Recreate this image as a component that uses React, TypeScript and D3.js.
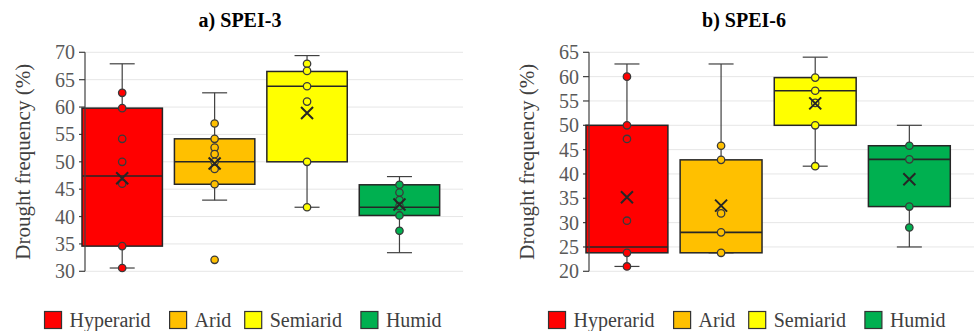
import React from 'react';
import * as d3 from 'd3';

const CLIMATES = ['Hyperarid', 'Arid', 'Semiarid', 'Humid'];
const COLORS = ['#FF0000', '#FFC000', '#FFFF00', '#00B050'];
const PANEL_TITLES = ['a) SPEI-3', 'b) SPEI-6'];
const Y_TITLE = 'Drought frequency (%)';
const Y_DOMAINS: [number, number][] = [[30, 70], [20, 65]];
const Y_TICKS = [
  [30, 35, 40, 45, 50, 55, 60, 65, 70],
  [20, 25, 30, 35, 40, 45, 50, 55, 60, 65],
];

// SPEI-3 statistics per climate (Hyperarid, Arid, Semiarid, Humid)
const SPEI3_MIN = [30.6, 43.0, 41.7, 33.4];
const SPEI3_Q1 = [34.6, 45.9, 50.0, 40.2];
const SPEI3_MEDIAN = [47.4, 50.0, 63.8, 41.7];
const SPEI3_Q3 = [59.8, 54.2, 66.5, 45.8];
const SPEI3_MAX = [67.9, 62.6, 69.4, 47.3];
const SPEI3_MEAN = [47.0, 49.7, 58.9, 42.2];
const SPEI3_POINTS = [
  [62.6, 59.8, 54.2, 50.0, 46.0, 34.6, 30.6],
  [57.0, 54.2, 52.6, 51.4, 50.0, 48.7, 45.9, 32.1],
  [67.9, 66.6, 63.8, 61.0, 50.0, 41.7],
  [45.8, 44.4, 43.0, 41.9, 40.2, 37.4],
];

// SPEI-6 statistics per climate
const SPEI6_MIN = [21.0, 23.8, 41.6, 25.0];
const SPEI6_Q1 = [23.8, 23.8, 50.0, 33.3];
const SPEI6_MEDIAN = [25.0, 28.0, 57.1, 43.0];
const SPEI6_Q3 = [50.0, 42.9, 59.8, 45.8];
const SPEI6_MAX = [62.6, 62.6, 64.0, 50.0];
const SPEI6_MEAN = [35.2, 33.5, 54.5, 38.9];
const SPEI6_POINTS = [
  [60.0, 50.0, 47.2, 30.4, 23.8, 21.0],
  [45.8, 42.9, 31.9, 28.0, 23.8],
  [59.8, 57.1, 54.6, 50.0, 41.6],
  [45.8, 43.0, 33.3, 29.0],
];

// approximate advance widths (em) of the legend labels in a Times-like face
const LEGEND_EM = [4.054, 1.555, 3.61, 2.778];

const W = 974;
const H = 331;
const FONT_STACK = "'Liberation Serif', Tinos, 'Times New Roman', serif";

type Stats = { min: number[]; q1: number[]; med: number[]; q3: number[]; max: number[]; mean: number[]; pts: number[][] };
const PANELS: Stats[] = [
  { min: SPEI3_MIN, q1: SPEI3_Q1, med: SPEI3_MEDIAN, q3: SPEI3_Q3, max: SPEI3_MAX, mean: SPEI3_MEAN, pts: SPEI3_POINTS },
  { min: SPEI6_MIN, q1: SPEI6_Q1, med: SPEI6_MEDIAN, q3: SPEI6_Q3, max: SPEI6_MAX, mean: SPEI6_MEAN, pts: SPEI6_POINTS },
];

const PANEL_X = [0, 504];
const AXIS_X = 85;
const PLOT_W = [378, 385];
const PLOT_TOP = 52.3;
const PLOT_BOTTOM = 271.3;

function Panel({ idx }: { idx: number }) {
  const ox = PANEL_X[idx];
  const st = PANELS[idx];
  const axisX = ox + AXIS_X;
  const y = d3.scaleLinear().domain(Y_DOMAINS[idx]).range([PLOT_BOTTOM, PLOT_TOP]);
  const x = d3
    .scaleBand<string>()
    .domain(CLIMATES)
    .range([axisX - 3, axisX - 3 + PLOT_W[idx]])
    .paddingInner(0.13)
    .paddingOuter(0.11)
    .align(0);
  const bw = x.bandwidth();
  const cap = 25;
  const mx = 6;

  const sq = 17;
  const items = CLIMATES.map((c, i) => ({ c, w: sq + 8 + LEGEND_EM[i] * 20 }));
  const gap = 19;
  const total = d3.sum(items, (d) => d.w) + gap * (items.length - 1);
  let lx = ox + 243 - total / 2;
  const legendPos = items.map((it) => {
    const p = lx;
    lx += it.w + gap;
    return p;
  });

  return (
    <g>
      {Y_TICKS[idx].map((t) => (
        <g key={t}>
          <line x1={axisX} x2={ox + AXIS_X + PLOT_W[idx]} y1={y(t)} y2={y(t)} stroke="#e6e6e6" strokeWidth={1} />
          <line x1={axisX - 6} x2={axisX} y1={y(t)} y2={y(t)} stroke="#404040" strokeWidth={1.2} />
        </g>
      ))}
      {CLIMATES.map((c, i) => {
        const cx = (x(c) as number) + bw / 2;
        const x0 = x(c) as number;
        return (
          <g key={c}>
            <line x1={cx} x2={cx} y1={y(st.max[i])} y2={y(st.q3[i])} stroke="#404040" strokeWidth={1.2} />
            <line x1={cx} x2={cx} y1={y(st.q1[i])} y2={y(st.min[i])} stroke="#404040" strokeWidth={1.2} />
            <line x1={cx - cap / 2} x2={cx + cap / 2} y1={y(st.max[i])} y2={y(st.max[i])} stroke="#404040" strokeWidth={1.2} />
            <line x1={cx - cap / 2} x2={cx + cap / 2} y1={y(st.min[i])} y2={y(st.min[i])} stroke="#404040" strokeWidth={1.2} />
            <rect
              x={x0}
              y={y(st.q3[i])}
              width={bw}
              height={y(st.q1[i]) - y(st.q3[i])}
              fill={COLORS[i]}
              stroke="#262626"
              strokeWidth={1.5}
            />
            <line x1={x0} x2={x0 + bw} y1={y(st.med[i])} y2={y(st.med[i])} stroke="#262626" strokeWidth={1.6} />
            {st.pts[i].map((v, k) => (
              <circle key={k} cx={cx} cy={y(v)} r={3.7} fill={COLORS[i]} stroke="#3a3a3a" strokeWidth={1.3} />
            ))}
            <path
              d={`M${cx - mx},${y(st.mean[i]) - mx}L${cx + mx},${y(st.mean[i]) + mx}M${cx - mx},${y(st.mean[i]) + mx}L${cx + mx},${y(st.mean[i]) - mx}`}
              stroke="#262626"
              strokeWidth={2}
              fill="none"
            />
          </g>
        );
      })}
      <line x1={axisX} x2={axisX} y1={PLOT_TOP} y2={PLOT_BOTTOM} stroke="#404040" strokeWidth={1.2} />
      {items.map((it, i) => (
        <rect key={it.c} x={legendPos[i]} y={311.5} width={sq} height={sq} fill={COLORS[i]} stroke="#333" strokeWidth={1.2} />
      ))}
      <g className="txt">
        <text x={ox + 240} y={27} textAnchor="middle" fontWeight="bold" fill="#000">
          {PANEL_TITLES[idx]}
        </text>
        {Y_TICKS[idx].map((t) => (
          <text key={t} x={axisX - 10} y={y(t) + 7} textAnchor="end" fill="#595959">
            {t}
          </text>
        ))}
        <text
          transform={`translate(${ox + 30},${(PLOT_TOP + PLOT_BOTTOM) / 2}) rotate(-90)`}
          textAnchor="middle"
          fill="#404040"
          style={{ fontSize: 21 }}
        >
          {Y_TITLE}
        </text>
        {items.map((it, i) => (
          <text key={it.c} x={legendPos[i] + sq + 8} y={327} fill="#404040">
            {it.c}
          </text>
        ))}
      </g>
    </g>
  );
}

export default function App() {
  return (
    <svg width={W} height={H} style={{ position: 'absolute', left: 0, top: 0, background: '#fff', fontFamily: FONT_STACK, fontSize: 20 }}>
      <style>{`.txt text { font-family: ${FONT_STACK}; font-size: 20px; }`}</style>
      <rect width={W} height={H} fill="#fff" />
      <Panel idx={0} />
      <Panel idx={1} />
    </svg>
  );
}
